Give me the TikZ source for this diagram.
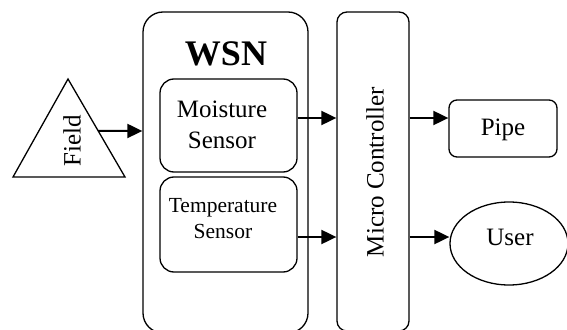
\documentclass[tikz,border=0pt]{standalone}
\usepackage{fontspec}
\setmainfont{Liberation Serif}
\usetikzlibrary{arrows.meta,shapes.geometric}
\begin{document}
\begin{tikzpicture}[x=1pt,y=-1pt,
  box/.style={draw, line width=1.3pt, inner sep=0pt},
  lbl/.style={inner sep=0pt, font=\fontsize{25}{29}\selectfont},
  slbl/.style={inner sep=0pt, font=\fontsize{21.5}{25}\selectfont},
  arr/.style={line width=2pt, -{Triangle[length=15pt,width=14pt]}}]
\useasboundingbox (0,0) rectangle (567,329);
\clip (0,0) rectangle (567,329);

% field triangle
\coordinate (apex) at (68,79);
\coordinate (bl) at (13,177);
\coordinate (br) at (125,177);
\draw[line width=1.3pt, line join=miter] (apex) -- (br) -- (bl) -- cycle;
\node[lbl, rotate=90] (field) at (72,141) {Field};

% containers
\node[box, rounded corners=20pt, minimum width=165pt, minimum height=321pt] (wsn) at (225.5,172.5) {};
\node[box, rounded corners=10pt, minimum width=72pt, minimum height=319pt] (mc) at (373,171.5) {};
\node[inner sep=0pt, anchor=base, font=\fontsize{36}{40}\selectfont\bfseries] (wsnlbl) at (226,65) {WSN};
\node[lbl, rotate=90] (mclbl) at (375,172) {Micro Controller};

% sensors
\node[box, rounded corners=14pt, minimum width=137pt, minimum height=93pt] (moist) at (228.5,125.5) {};
\node[box, rounded corners=14pt, minimum width=137pt, minimum height=95pt] (temp) at (228.5,224.5) {};
\node[lbl, anchor=base] (m1) at (222,117) {Moisture};
\node[lbl, anchor=base] (m2) at (222,148) {Sensor};
\node[slbl, anchor=base] (t1) at (223,212) {Temperature};
\node[slbl, anchor=base] (t2) at (223,238) {Sensor};

% outputs
\node[box, rounded corners=8pt, minimum width=108pt, minimum height=57pt] (pipe) at (503,128.5) {};
\node[lbl, anchor=base] (pipelbl) at (503,135) {Pipe};
\node[box, ellipse, minimum width=118pt, minimum height=83pt] (user) at (509,243.5) {};
\node[lbl, anchor=base] (userlbl) at (510,245) {User};

% connector rows
\coordinate (rowf) at (0,131);
\coordinate (rowa) at (0,118);
\coordinate (rowb) at (0,237);
\path (apex) -- (br) coordinate[pos=0.53] (fout);

\draw[arr] (fout) -- (wsn.west |- rowf);
\draw[arr] (moist.east |- rowa) -- (mc.west |- rowa);
\draw[arr] (temp.east |- rowb) -- (mc.west |- rowb);
\draw[arr] (mc.east |- rowa) -- (pipe.west |- rowa);
\draw[arr] (mc.east |- rowb) -- (user.west |- rowb);
\end{tikzpicture}
\end{document}
